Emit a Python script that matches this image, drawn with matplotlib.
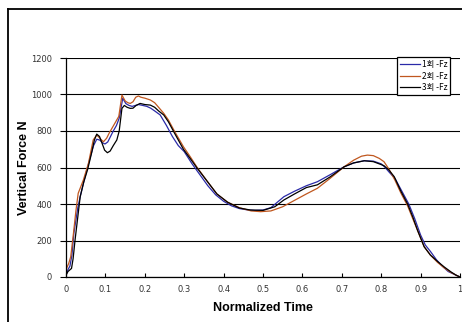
import matplotlib.pyplot as plt
from matplotlib.lines import Line2D

# 데이터
t1 = [0, 0.005, 0.01, 0.015, 0.02, 0.03, 0.036, 0.045, 0.054, 0.062, 0.07, 0.078, 0.086, 0.093, 0.099,
      0.106, 0.113, 0.12, 0.128, 0.135, 0.144, 0.152, 0.16, 0.168, 0.176, 0.184, 0.195, 0.205, 0.215,
      0.225, 0.239, 0.255, 0.27, 0.285, 0.3, 0.32, 0.34, 0.36, 0.38, 0.4, 0.42, 0.44, 0.46, 0.48, 0.5,
      0.52, 0.553, 0.58, 0.61, 0.638, 0.67, 0.706, 0.73, 0.757, 0.78, 0.8, 0.81, 0.82, 0.835, 0.85,
      0.87, 0.885, 0.9, 0.912, 0.925, 0.94, 0.955, 0.97, 0.985, 1.0]
fz1 = [10, 40, 60, 120, 240, 380, 440, 520, 595, 660, 720, 755, 750, 735, 729, 740, 770, 800, 830, 870,
       979, 950, 940, 935, 940, 945, 940, 935, 925, 910, 888, 830, 770, 720, 687, 620, 560, 500, 450,
       415, 390, 375, 368, 365, 367, 380, 440, 470, 500, 522, 560, 604, 625, 637, 635, 620, 600, 575,
       540, 480, 400, 320, 230, 175, 140, 95, 60, 30, 15, 0]

t2 = [0, 0.002, 0.007, 0.012, 0.019, 0.025, 0.031, 0.044, 0.057, 0.069, 0.078, 0.086, 0.095, 0.103,
      0.11, 0.118, 0.126, 0.134, 0.142, 0.15, 0.157, 0.163, 0.17, 0.177, 0.184, 0.19, 0.2, 0.214, 0.225,
      0.235, 0.248, 0.26, 0.275, 0.298, 0.315, 0.333, 0.36, 0.383, 0.41, 0.44, 0.47, 0.494, 0.52, 0.55,
      0.58, 0.61, 0.638, 0.67, 0.706, 0.73, 0.75, 0.765, 0.78, 0.795, 0.807, 0.82, 0.835, 0.85, 0.867,
      0.88, 0.892, 0.909, 0.925, 0.943, 0.96, 0.977, 0.99, 1.0]
fz2 = [20, 50, 75, 111, 240, 360, 459, 531, 623, 751, 778, 760, 741, 760, 790, 820, 850, 880, 997, 965,
       955, 951, 960, 985, 992, 985, 980, 970, 955, 930, 897, 860, 800, 714, 660, 600, 520, 455, 410,
       380, 362, 358, 362, 385, 420, 455, 486, 540, 604, 640, 662, 668, 665, 650, 632, 590, 530, 460,
       390, 320, 257, 166, 120, 80, 50, 25, 10, 0]

t3 = [0, 0.005, 0.014, 0.018, 0.023, 0.03, 0.036, 0.045, 0.055, 0.065, 0.072, 0.078, 0.085, 0.092,
      0.098, 0.105, 0.112, 0.12, 0.129, 0.135, 0.142, 0.148, 0.155, 0.163, 0.17, 0.178, 0.188, 0.2,
      0.214, 0.225, 0.235, 0.248, 0.26, 0.275, 0.298, 0.315, 0.333, 0.36, 0.383, 0.41, 0.44, 0.468,
      0.5, 0.53, 0.553, 0.58, 0.61, 0.638, 0.67, 0.706, 0.73, 0.757, 0.78, 0.795, 0.807, 0.82, 0.833,
      0.85, 0.867, 0.88, 0.892, 0.909, 0.925, 0.943, 0.96, 0.977, 0.99, 1.0]
fz3 = [10, 30, 47, 100, 203, 330, 440, 520, 590, 680, 750, 783, 770, 730, 695, 681, 690, 720, 751, 800,
       924, 940, 930, 924, 925, 940, 951, 945, 942, 930, 910, 888, 850, 790, 700, 650, 596, 520, 455,
       410, 378, 367, 365, 385, 422, 455, 490, 505, 548, 604, 625, 637, 632, 620, 610, 585, 550, 470,
       400, 330, 257, 166, 120, 85, 55, 28, 10, 0]

labels = ['1회 -Fz', '2회 -Fz', '3회 -Fz']
xticks = [0, 0.1, 0.2, 0.3, 0.4, 0.5, 0.6, 0.7, 0.8, 0.9, 1]
xticklabels = ['0', '0.1', '0.2', '0.3', '0.4', '0.5', '0.6', '0.7', '0.8', '0.9', '1']
yticks = [0, 200, 400, 600, 800, 1000, 1200]

fig = plt.figure(figsize=(4.62, 3.22), dpi=100)
ax = fig.add_axes([66 / 462, 1 - 277 / 322, 394 / 462, 219 / 322])

ax.plot(t1, fz1, color='#2a2aa8', lw=0.9, label=labels[0])
ax.plot(t2, fz2, color='#c0571f', lw=0.9, label=labels[1])
ax.plot(t3, fz3, color='black', lw=0.9, label=labels[2])

ax.set_xlim(0, 1)
ax.set_ylim(0, 1200)
ax.set_xticks(xticks)
ax.set_xticklabels(xticklabels)
ax.set_yticks(yticks)
ax.yaxis.grid(True, color='black', lw=0.8)
ax.set_axisbelow(True)
for s in ['top', 'right']:
    ax.spines[s].set_visible(False)
ax.spines['left'].set_linewidth(0.9)
ax.spines['bottom'].set_linewidth(0.9)
ax.tick_params(axis='x', direction='in', length=3, labelsize=6, colors='#333333', pad=6)
ax.tick_params(axis='y', direction='out', length=4, labelsize=6, colors='#333333', pad=6)
ax.tick_params(axis='both', color='black')

ax.set_xlabel('Normalized Time', fontsize=9, fontweight='bold', family='Liberation Sans')
ax.set_ylabel('Vertical Force N', fontsize=9, fontweight='bold', family='Liberation Sans')
ax.xaxis.set_label_coords(0.5, -0.115)
ax.yaxis.set_label_coords(-0.092, 0.5)

leg = ax.legend(loc='upper left', bbox_to_anchor=(397 / 462, 1 - 57 / 322), bbox_transform=fig.transFigure,
                prop={'family': ['Noto Sans CJK KR', 'DejaVu Sans'], 'size': 6},
                fancybox=False, framealpha=1, edgecolor='black', handlelength=2.4, handletextpad=0.2,
                borderpad=0.35, labelspacing=0.32, borderaxespad=0)
leg.get_frame().set_linewidth(0.9)

# 바깥 테두리
fig.add_artist(Line2D([8 / 462, 8 / 462], [0, 1 - 9 / 322], color='black', lw=1.3))
fig.add_artist(Line2D([8 / 462, 1], [1 - 9 / 322, 1 - 9 / 322], color='black', lw=1.3))

plt.savefig('out.png', dpi=100)
